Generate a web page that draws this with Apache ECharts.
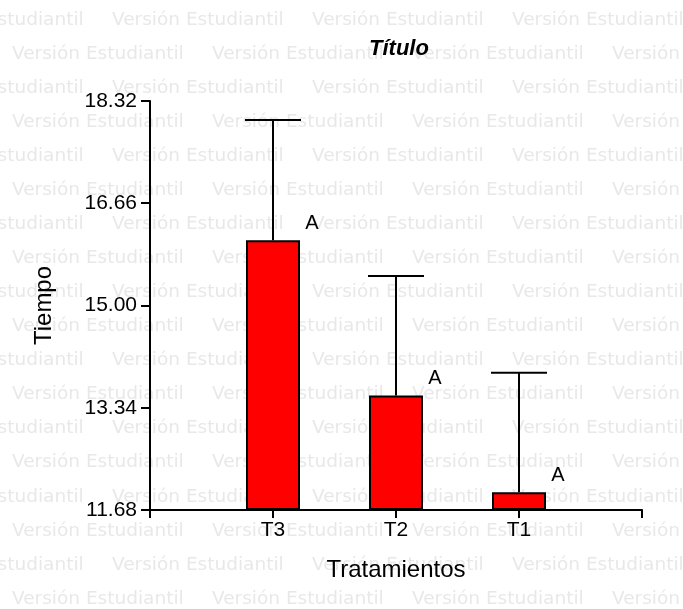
<!DOCTYPE html>
<html>
<head>
<meta charset="utf-8">
<script src="https://cdn.jsdelivr.net/npm/echarts@6/dist/echarts.min.js"></script>
<style>
html,body{margin:0;padding:0;background:#fff;}
#chart{width:683px;height:609px;}
</style>
</head>
<body>
<div id="chart"></div>
<script>
// ---- data ----
const categories = ['T3', 'T2', 'T1'];
const means = [16.06, 13.54, 11.97];
const errors = [1.95, 1.94, 1.94];
const letters = ['A', 'A', 'A'];
const yTickLabels = ['11.68', '13.34', '15.00', '16.66', '18.32'];
const yMin = 11.68;
const yStep = 1.66;
const titleText = 'Título';
const xName = 'Tratamientos';
const yName = 'Tiempo';
const watermarkText = 'Versión Estudiantil';

// ---- build ----
const chart = echarts.init(document.getElementById('chart'));
const yMaxOff = yStep * (yTickLabels.length - 1);

const barData = categories.map((c, i) => [i + 1, means[i] - yMin]);
const errData = categories.map((c, i) => [i + 1, means[i] - yMin, means[i] + errors[i] - yMin, letters[i]]);

const wm = [];
for (let k = 0; k < 18; k++) {
  const x0 = (k % 2 === 0) ? -88 : 12;
  for (let n = 0; n < 5; n++) {
    wm.push({
      type: 'text', silent: true, z: -10,
      x: x0 + 200 * n, y: 20 + 34.05 * k,
      style: {
        text: watermarkText, fill: '#e8e8e8',
        font: '18.5px "DejaVu Sans"', textVerticalAlign: 'middle'
      }
    });
  }
}

const font = '"Liberation Sans", Arial, sans-serif';

chart.setOption({
  backgroundColor: '#ffffff',
  animation: false,
  graphic: wm,
  title: {
    text: titleText, left: 364, top: 33,
    textStyle: { fontFamily: font, fontSize: 22, fontWeight: 'bold', fontStyle: 'italic', color: '#000' }
  },
  grid: { left: 150, right: 41, top: 101, bottom: 99, containLabel: false },
  xAxis: {
    type: 'value', min: 0, max: categories.length + 1, interval: 1,
    name: xName, nameLocation: 'middle', nameGap: 48,
    nameTextStyle: { fontFamily: font, fontSize: 24, color: '#000' },
    axisLine: { lineStyle: { color: '#000', width: 2 } },
    axisTick: { show: true, length: 8, lineStyle: { color: '#000', width: 2 } },
    splitLine: { show: false },
    axisLabel: {
      fontFamily: font, fontSize: 21, color: '#000', margin: 10,
      formatter: v => (v >= 1 && v <= categories.length) ? categories[v - 1] : ''
    }
  },
  yAxis: {
    type: 'value', min: 0, max: yMaxOff, interval: yStep,
    name: yName, nameLocation: 'middle', nameGap: 94, nameRotate: 90,
    nameTextStyle: { fontFamily: font, fontSize: 24, color: '#000' },
    axisLine: { show: true, lineStyle: { color: '#000', width: 2 } },
    axisTick: { show: true, length: 9, lineStyle: { color: '#000', width: 2 } },
    splitLine: { show: false },
    axisLabel: {
      fontFamily: font, fontSize: 21, color: '#000', margin: 13,
      formatter: v => yTickLabels[Math.round(v / yStep)]
    }
  },
  series: [
    {
      type: 'bar', data: barData, barWidth: 54, z: 3,
      itemStyle: { color: '#ff0000', borderColor: '#000', borderWidth: 2 }
    },
    {
      type: 'custom', data: errData, z: 4,
      encode: { x: 0, y: [1, 2] },
      renderItem: function (params, api) {
        const x = api.value(0);
        const p0 = api.coord([x, api.value(1)]);
        const p1 = api.coord([x, api.value(2)]);
        const half = 28;
        const st = { stroke: '#000', lineWidth: 2 };
        return {
          type: 'group',
          children: [
            { type: 'line', shape: { x1: p0[0], y1: p0[1], x2: p1[0], y2: p1[1] }, style: st },
            { type: 'line', shape: { x1: p1[0] - half, y1: p1[1], x2: p1[0] + half, y2: p1[1] }, style: st },
            { type: 'text', x: p0[0] + 39, y: p0[1] - 17,
              style: { text: letters[params.dataIndex], font: '20px ' + font, fill: '#000', align: 'center', verticalAlign: 'middle' } }
          ]
        };
      }
    }
  ]
});
</script>
</body>
</html>
